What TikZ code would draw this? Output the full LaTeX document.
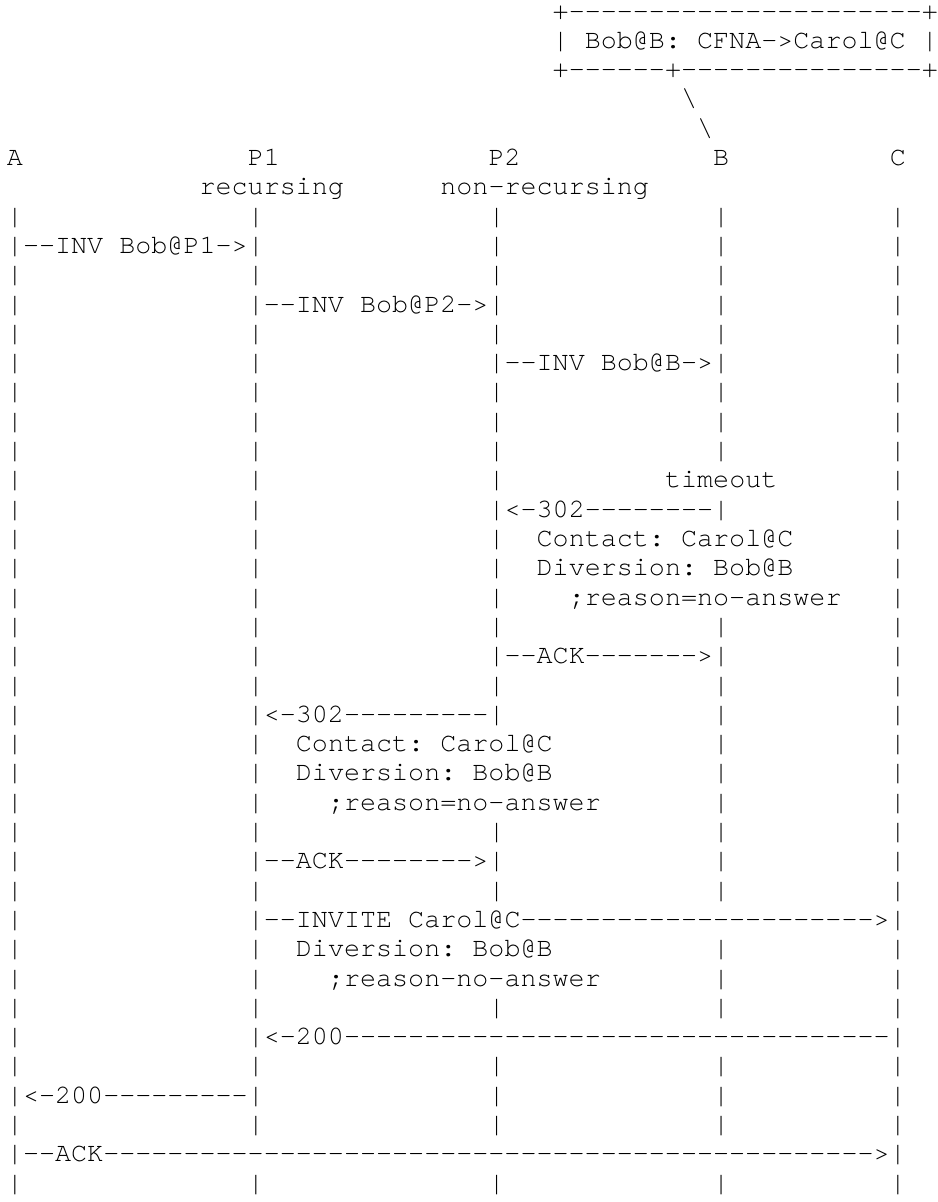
\documentclass[tikz,border=0pt]{standalone}
\usepackage{fontspec}
\setmonofont{TeX Gyre Cursor}
\usepackage{tikz}
\newcommand{\dashrun}[1]{\foreach\k in {1,...,#1}{-}}
\tikzstyle{txt}=[anchor=base west,inner sep=0pt,outer sep=0pt,
                 font=\ttfamily\fontsize{20.06pt}{24pt}\selectfont,xshift=5.25pt,yshift=7.65pt]

\begin{document}
\begin{tikzpicture}[x=12.0375pt,y=-21.975pt]
      \useasboundingbox (0,0) rectangle (58.442,41.024);
      % forwarding rule at B
      \node[txt] (boxtop) at (34,1) {+\dashrun{22}+};
      \node[txt] (boxmid) at (34,2) {| Bob@B: CFNA->Carol@C |};
      \node[txt] (boxbot) at (34,3) {+\dashrun{6}+\dashrun{15}+};
      \node[txt] (bs1) at (42,4) {\textbackslash};
      \node[txt] (bs2) at (43,5) {\textbackslash};

      % participants
      \node[txt] (nA) at (0,6) {A};
      \node[txt] (nP1) at (15,6) {P1};
      \node[txt] (nP2) at (30,6) {P2};
      \node[txt] (nB) at (44,6) {B};
      \node[txt] (nC) at (55,6) {C};
      \node[txt] (rec1) at (12,7) {recursing};
      \node[txt] (rec2) at (27,7) {non-recursing};

      % lifelines
      \foreach \r in {8,9,10,11,12,13,14,15,16,18,22,23,24,25,29,30,31,35,37,38,39,41}
        \foreach \c in {0,15,30,44,55}
          \node[txt] (bar\r-\c) at (\c,\r) {|};
      \foreach \r in {17,19,20,21}
        \foreach \c in {0,15,30,55}
          \node[txt] (bar\r-\c) at (\c,\r) {|};
      \foreach \r in {26,27,28,33,34}
        \foreach \c in {0,15,44,55}
          \node[txt] (bar\r-\c) at (\c,\r) {|};
      \foreach \r in {32,36}
        \foreach \c in {0,15,55}
          \node[txt] (bar\r-\c) at (\c,\r) {|};
      \node[txt] (bar40-0) at (0,40) {|};
      \node[txt] (bar40-55) at (55,40) {|};

      % messages
      \node[txt] (inv1) at (1,9) {--INV Bob@P1->};
      \node[txt] (inv2) at (16,11) {--INV Bob@P2->};
      \node[txt] (inv3) at (31,13) {--INV Bob@B->};
      \node[txt] (tmo) at (41,17) {timeout};
      \node[txt] (r302a) at (31,18) {<-302\dashrun{8}};
      \node[txt] (cta) at (33,19) {Contact: Carol@C};
      \node[txt] (diva) at (33,20) {Diversion: Bob@B};
      \node[txt] (rsna) at (35,21) {;reason=no-answer};
      \node[txt] (acka) at (31,23) {--ACK\dashrun{7}>};
      \node[txt] (r302b) at (16,25) {<-302\dashrun{9}};
      \node[txt] (ctb) at (18,26) {Contact: Carol@C};
      \node[txt] (divb) at (18,27) {Diversion: Bob@B};
      \node[txt] (rsnb) at (20,28) {;reason=no-answer};
      \node[txt] (ackb) at (16,30) {--ACK\dashrun{8}>};
      \node[txt] (invc) at (16,32) {--INVITE Carol@C\dashrun{22}>};
      \node[txt] (divc) at (18,33) {Diversion: Bob@B};
      \node[txt] (rsnc) at (20,34) {;reason-no-answer};
      \node[txt] (ok1) at (16,36) {<-200\dashrun{34}};
      \node[txt] (ok2) at (1,38) {<-200\dashrun{9}};
      \node[txt] (ackc) at (1,40) {--ACK\dashrun{48}>};
    \end{tikzpicture}
\end{document}
